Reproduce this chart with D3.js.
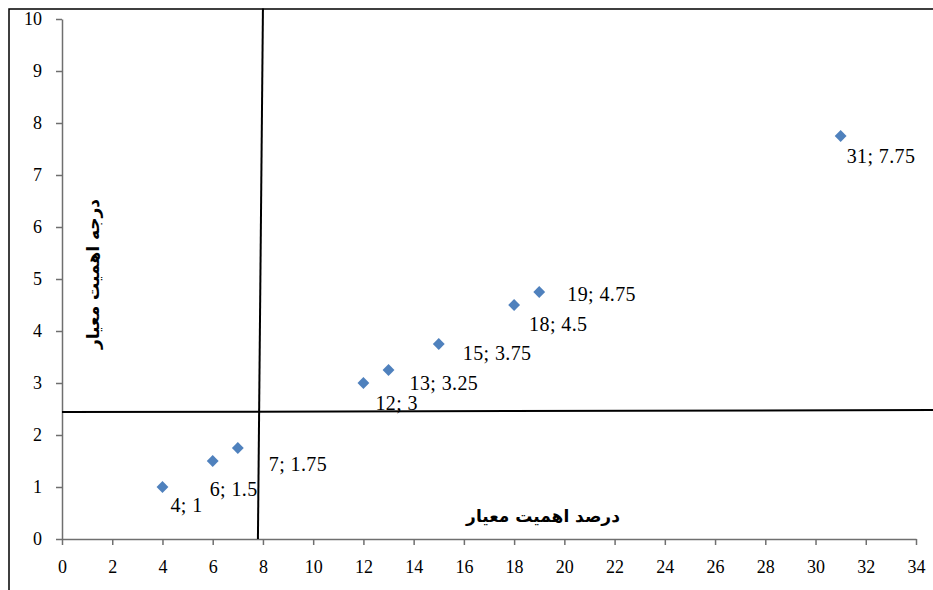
<!DOCTYPE html>
<html>
<head>
  <meta charset="utf-8">
  <script src="https://d3js.org/d3.v7.min.js"></script>
  <style>
    html, body {
      margin: 0px;
      padding: 0px;
      background: #fff;
    }

    .axis text {
      font-family: "Liberation Serif", "Times New Roman", serif;
      font-size: 18px;
      fill: #000;
    }

    .axis path, .axis line {
      stroke: #6f6f6f;
      stroke-width: 1.5px;
    }

    .pointLabel {
      font-family: "Liberation Serif", "Times New Roman", serif;
      font-size: 20px;
      letter-spacing: 0.4px;
    }

    .axisLabel {
      font-family: "DejaVu Sans", sans-serif;
      font-size: 17px;
      font-weight: bold;
    }
  </style>
</head>
<body>
  <div id="chart"></div>
  <script>

      const width = 933;
      const height = 590;

      /* data */
      const xValues = [4, 6, 7, 12, 13, 15, 18, 19, 31];
      const yValues = [1, 1.5, 1.75, 3, 3.25, 3.75, 4.5, 4.75, 7.75];
      const xTicks = [0, 2, 4, 6, 8, 10, 12, 14, 16, 18, 20, 22, 24, 26, 28, 30, 32, 34];
      const yTicks = [0, 1, 2, 3, 4, 5, 6, 7, 8, 9, 10];

      // dividing lines drawn across the chart (in data units)
      const vLine = [{x: 8.0, y: 10.2}, {x: 7.8, y: 0}];
      const hLine = [{x: 0, y: 2.44}, {x: 34.7, y: 2.48}];

      const xTitle = "درصد اهمیت معیار";
      const yTitle = "درجه اهمیت معیار";

      // hand-placed label offsets (px), like the dragged labels of the original
      const labelOffsets = [[8, 25], [-3, 35], [31, 23], [12, 27], [21, 20], [24, 16], [15, 26], [28, 9], [6, 27]];

      const points = xValues.map(function(x, i) {
        return {x: x, y: yValues[i], label: x + "; " + yValues[i]};
      });

      const svg = d3.select("#chart")
        .append("svg")
        .attr("width", width)
        .attr("height", height);

      // outer frame of the chart area
      svg.append("rect")
        .attr("x", 9)
        .attr("y", 9)
        .attr("width", width)
        .attr("height", height)
        .attr("fill", "none")
        .attr("stroke", "#000")
        .attr("stroke-width", 1.5);

      const xScale = d3.scaleLinear()
        .domain([0, 34])
        .range([62, 916]);

      const yScale = d3.scaleLinear()
        .domain([0, 10])
        .range([539, 19]);

      svg.append("g")
        .attr("class", "axis")
        .attr("transform", `translate(0,${yScale(0)})`)
        .call(d3.axisBottom(xScale).tickValues(xTicks).tickSize(6).tickSizeOuter(0).tickPadding(15));

      svg.append("g")
        .attr("class", "axis")
        .attr("transform", `translate(${xScale(0)},0)`)
        .call(d3.axisLeft(yScale).tickValues(yTicks).tickSize(6).tickSizeOuter(0).tickPadding(14));

      const line = d3.line()
        .x(function(d) { return xScale(d.x); })
        .y(function(d) { return yScale(d.y); });

      svg.append("path")
        .datum(vLine)
        .attr("d", line)
        .attr("stroke", "#000")
        .attr("stroke-width", 2)
        .attr("fill", "none");

      svg.append("path")
        .datum(hLine)
        .attr("d", line)
        .attr("stroke", "#000")
        .attr("stroke-width", 2)
        .attr("fill", "none");

      svg.selectAll(".dot")
        .data(points)
        .enter()
        .append("path")
          .attr("class", "dot")
          .attr("d", d3.symbol(d3.symbolSquare, 70))
          .attr("transform", function(d) { return `translate(${xScale(d.x)},${yScale(d.y)}) rotate(45)`; })
          .attr("fill", "#4f81bd");

      svg.selectAll(".pointLabel")
        .data(points)
        .enter()
        .append("text")
          .attr("class", "pointLabel")
          .attr("x", function(d, i) { return xScale(d.x) + labelOffsets[i][0]; })
          .attr("y", function(d, i) { return yScale(d.y) + labelOffsets[i][1]; })
          .text(function(d) { return d.label; });

      svg.append("text")
        .attr("class", "axisLabel")
        .attr("x", 543)
        .attr("y", 522)
        .attr("text-anchor", "middle")
        .attr("direction", "rtl")
        .text(xTitle);

      svg.append("text")
        .attr("class", "axisLabel")
        .attr("transform", "translate(99,274) rotate(-90)")
        .attr("text-anchor", "middle")
        .attr("direction", "rtl")
        .text(yTitle);

  </script>
</body>
</html>
